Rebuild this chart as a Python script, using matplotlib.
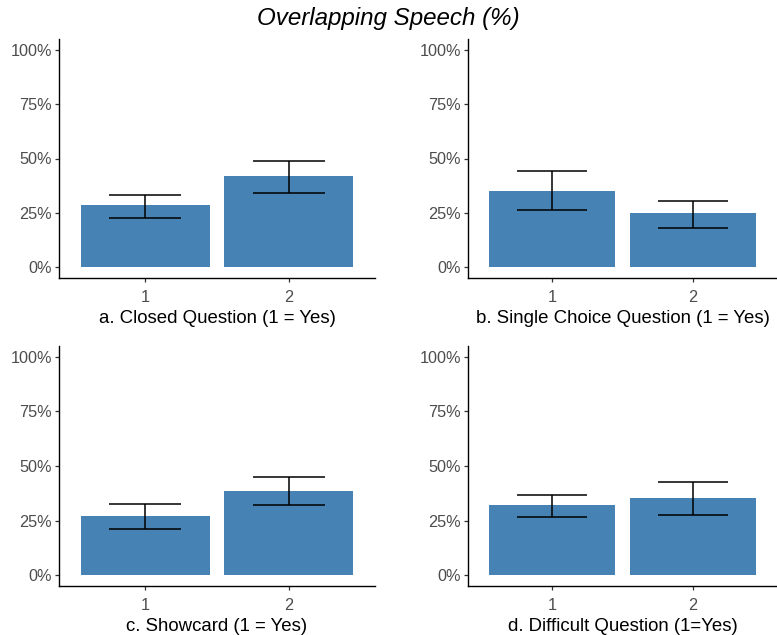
import matplotlib
matplotlib.use("Agg")
import matplotlib.pyplot as plt
from matplotlib.ticker import PercentFormatter

plt.rcParams["font.family"] = ["Liberation Sans", "DejaVu Sans"]

# values (percent)
groups = ["1", "2"]
panel_labels = [
    "a. Closed Question (1 = Yes)",
    "b. Single Choice Question (1 = Yes)",
    "c. Showcard (1 = Yes)",
    "d. Difficult Question (1=Yes)",
]
means = [
    [28.4, 41.8],
    [35.2, 25.0],
    [27.1, 38.7],
    [31.9, 35.4],
]
lower = [
    [22.7, 33.9],
    [26.3, 18.1],
    [21.0, 32.1],
    [26.4, 27.6],
]
upper = [
    [33.2, 48.8],
    [44.2, 30.4],
    [32.5, 44.8],
    [36.8, 42.6],
]

bar_color = "#4682B4"
W, H = 777, 635
fig = plt.figure(figsize=(W / 100, H / 100), dpi=100)

# axes boxes in pixels: left, top, right, bottom
boxes = [
    (59, 39, 375, 278),
    (468, 39, 777, 278),
    (59, 346, 375, 586),
    (468, 346, 777, 586),
]

for i, (l, t, r, b) in enumerate(boxes):
    ax = fig.add_axes([l / W, 1 - b / H, (r - l) / W, (b - t) / H])
    x = [1, 2]
    ax.bar(x, means[i], width=0.9, color=bar_color, edgecolor="none", zorder=2)
    ax.vlines(x, lower[i], upper[i], color="black", linewidth=1.1, zorder=3)
    ax.hlines(lower[i], [v - 0.25 for v in x], [v + 0.25 for v in x],
              color="black", linewidth=1.1, zorder=3)
    ax.hlines(upper[i], [v - 0.25 for v in x], [v + 0.25 for v in x],
              color="black", linewidth=1.1, zorder=3)
    ax.set_xlim(0.4, 2.6)
    ax.set_ylim(-5, 105)
    ax.set_xticks(x)
    ax.set_xticklabels(groups)
    ax.set_yticks([0, 25, 50, 75, 100])
    ax.yaxis.set_major_formatter(PercentFormatter(decimals=0))
    for side in ["top", "right"]:
        ax.spines[side].set_visible(False)
    for side in ["left", "bottom"]:
        ax.spines[side].set_linewidth(1.0)
        ax.spines[side].set_color("black")
    ax.tick_params(axis="both", length=3, width=0.9, color="#333333",
                   labelcolor="#4D4D4D", labelsize=11.7)
    ax.tick_params(axis="x", pad=6)
    ax.tick_params(axis="y", pad=2)
    ax.set_xlabel(panel_labels[i], fontsize=13.4, color="black", labelpad=3.5)

fig.text(0.5, 1 - 18 / H, "Overlapping Speech (%)", ha="center", va="center",
         fontsize=17.4, style="italic")

fig.savefig("out.png", dpi=100)
